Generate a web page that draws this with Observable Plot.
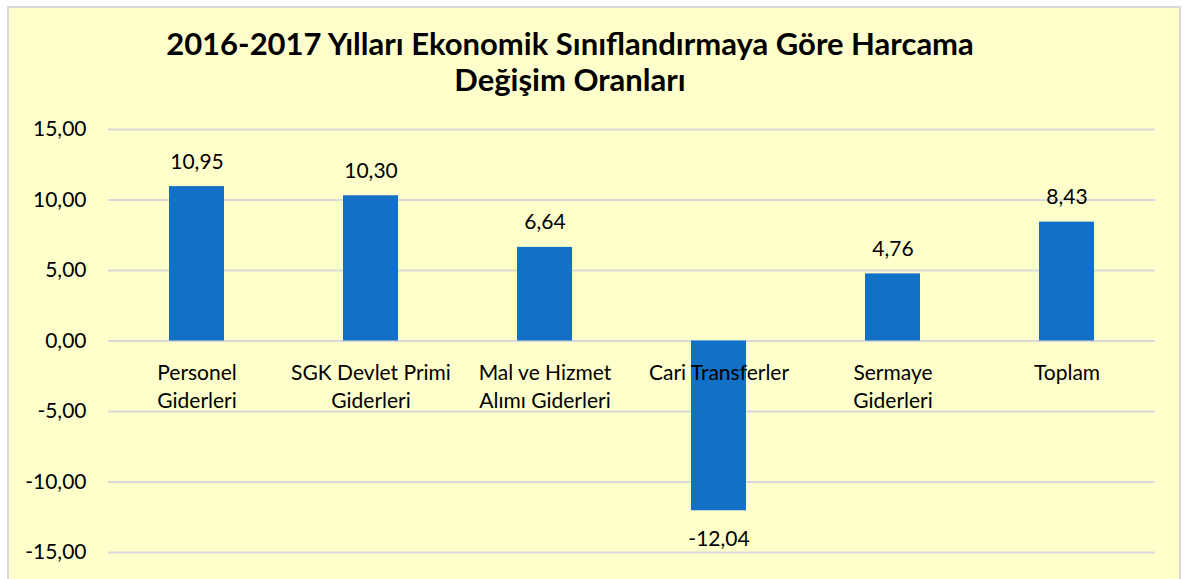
<!DOCTYPE html>
<html>
<head>
<meta charset="utf-8">
<script src="https://cdn.jsdelivr.net/npm/d3@7"></script>
<script src="https://cdn.jsdelivr.net/npm/@observablehq/plot@0.6"></script>
<style>
  html, body { margin: 0; padding: 0; background: #ffffff; }
  #wrap { position: relative; width: 1186px; height: 579px; overflow: hidden; font-family: Lato, "Open Sans", sans-serif; }
  #box { position: absolute; left: 7px; top: 6px; width: 1174px; height: 600px; background: #FFFFCC; border: 2px solid #D9D9D9; box-sizing: border-box; }
  #title { position: absolute; left: 0; width: 1140px; top: 25px; text-align: center; font-weight: bold; font-size: 31px; line-height: 36px; color: #000; }
  #chart { position: absolute; left: 0; top: 0; }
</style>
</head>
<body>
<div id="wrap">
  <div id="box"></div>
  <div id="title">2016-2017 Yılları Ekonomik Sınıflandırmaya Göre Harcama<br>Değişim Oranları</div>
  <div id="chart"></div>
</div>
<script>
const categories = ["Personel\nGiderleri", "SGK Devlet Primi\nGiderleri", "Mal ve Hizmet\nAlımı Giderleri", "Cari Transferler", "Sermaye\nGiderleri", "Toplam"];
const values = [10.95, 10.30, 6.64, -12.04, 4.76, 8.43];
const yTicks = [-15, -10, -5, 0, 5, 10, 15];

const data = categories.map((c, i) => ({category: c, value: values[i]}));
const fmt = v => d3.format(".2f")(v).replace(".", ",").replace("−", "-");

const plot = Plot.plot({
  width: 1186,
  height: 579,
  marginLeft: 108,
  marginRight: 31,
  marginTop: 129,
  marginBottom: 27,
  style: {background: "transparent", fontFamily: "Lato, 'Open Sans', sans-serif", fontSize: "20px", color: "#000"},
  x: {domain: categories, paddingInner: 0.685, paddingOuter: 0.3425, axis: null},
  y: {domain: [-15, 15], ticks: yTicks},
  marks: [
    Plot.ruleY(yTicks, {stroke: "#D9D9D9", strokeWidth: 2}),
    Plot.axisY(yTicks, {tickSize: 0, tickPadding: 22, tickFormat: fmt, fontSize: 21, label: null}),
    Plot.barY(data, {x: "category", y: "value", fill: "#1270C6"}),
    Plot.text(data, {x: "category", y: 0, text: "category", lineAnchor: "top", dy: 19, fontSize: 21, lineHeight: 1.35, fill: "#000"}),
    Plot.text(data.filter(d => d.value >= 0), {x: "category", y: "value", text: d => fmt(d.value), lineAnchor: "bottom", dy: -18, fontSize: 21, fill: "#000"}),
    Plot.text(data.filter(d => d.value < 0), {x: "category", y: "value", text: d => fmt(d.value), lineAnchor: "top", dy: 20, fontSize: 21, fill: "#000"})
  ]
});
document.getElementById("chart").appendChild(plot);
</script>
</body>
</html>
